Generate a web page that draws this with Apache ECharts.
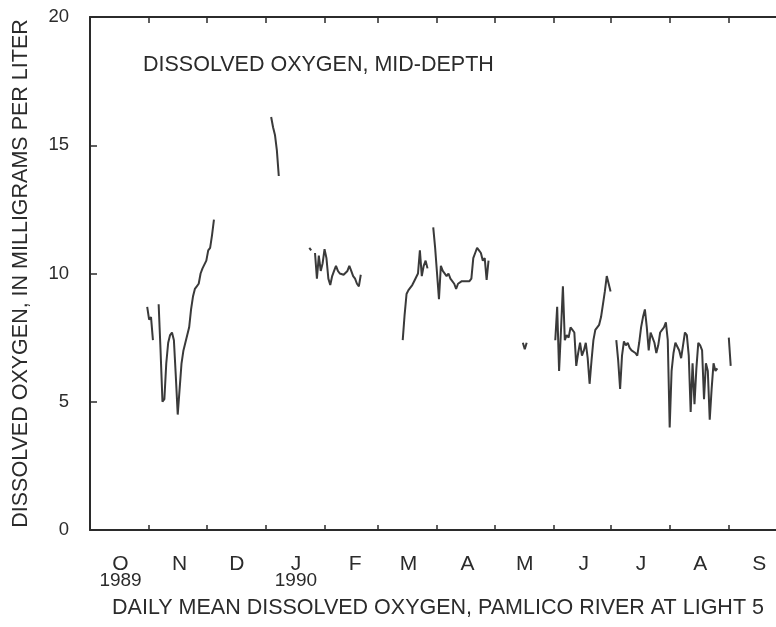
<!DOCTYPE html>
<html>
<head>
<meta charset="utf-8">
<script src="https://cdn.jsdelivr.net/npm/echarts@6/dist/echarts.min.js"></script>
<style>
  html, body { margin: 0; padding: 0; background: #fff; }
  #chart { width: 776px; height: 627px; }
</style>
</head>
<body>
<div id="chart"></div>
<script>
// daily mean dissolved oxygen, mg/L (gaps = no record)
var octNov1989a = [
  ["1989-10-31", 8.7], ["1989-11-01", 8.2], ["1989-11-02", 8.3], ["1989-11-03", 7.4]
];
var novDec1989 = [
  ["1989-11-06", 8.8], ["1989-11-07", 7.0], ["1989-11-08", 5.0], ["1989-11-09", 5.1],
  ["1989-11-10", 6.5], ["1989-11-11", 7.3], ["1989-11-12", 7.6], ["1989-11-13", 7.7],
  ["1989-11-14", 7.4], ["1989-11-15", 6.0], ["1989-11-16", 4.5], ["1989-11-17", 5.5],
  ["1989-11-18", 6.5], ["1989-11-19", 7.0], ["1989-11-20", 7.3], ["1989-11-21", 7.35],
  ["1989-11-22", 7.9], ["1989-11-23", 8.6], ["1989-11-24", 9.1], ["1989-11-25", 9.4],
  ["1989-11-26", 9.5], ["1989-11-27", 9.6], ["1989-11-28", 10.0], ["1989-11-29", 10.2],
  ["1989-11-30", 10.2], ["1989-12-01", 10.5], ["1989-12-02", 10.9], ["1989-12-03", 11.0],
  ["1989-12-04", 11.5], ["1989-12-05", 12.1]
];
var jan1990a = [
  ["1990-01-04", 16.1], ["1990-01-05", 15.7], ["1990-01-06", 15.4], ["1990-01-07", 14.8],
  ["1990-01-08", 13.8]
];
var jan1990b = [["1990-01-24", 11.0], ["1990-01-25", 10.9]];
var janFeb1990 = [
  ["1990-01-27", 10.8], ["1990-01-28", 9.8], ["1990-01-29", 10.7], ["1990-01-30", 10.1],
  ["1990-01-31", 10.4], ["1990-02-01", 10.95], ["1990-02-02", 10.6], ["1990-02-03", 9.8],
  ["1990-02-04", 9.55], ["1990-02-05", 9.9], ["1990-02-06", 10.1], ["1990-02-07", 10.3],
  ["1990-02-08", 10.1], ["1990-02-09", 10.0], ["1990-02-10", 10.05], ["1990-02-11", 9.95],
  ["1990-02-12", 10.0], ["1990-02-13", 10.1], ["1990-02-14", 10.3], ["1990-02-15", 10.1],
  ["1990-02-16", 9.9], ["1990-02-17", 9.8], ["1990-02-18", 9.6], ["1990-02-19", 9.5],
  ["1990-02-20", 9.95]
];
var mar1990 = [
  ["1990-03-14", 7.4], ["1990-03-15", 8.4], ["1990-03-16", 9.2], ["1990-03-17", 9.35],
  ["1990-03-18", 9.4], ["1990-03-19", 9.55], ["1990-03-20", 9.7], ["1990-03-21", 9.7],
  ["1990-03-22", 10.0], ["1990-03-23", 10.9], ["1990-03-24", 9.9], ["1990-03-25", 10.3],
  ["1990-03-26", 10.5], ["1990-03-27", 10.2]
];
var marApr1990 = [
  ["1990-03-30", 11.8], ["1990-03-31", 11.0], ["1990-04-01", 10.0], ["1990-04-02", 9.0],
  ["1990-04-03", 10.3], ["1990-04-04", 10.1], ["1990-04-05", 10.1], ["1990-04-06", 9.9],
  ["1990-04-07", 10.0], ["1990-04-08", 9.8], ["1990-04-09", 9.8], ["1990-04-10", 9.6],
  ["1990-04-11", 9.4], ["1990-04-12", 9.6], ["1990-04-13", 9.55], ["1990-04-14", 9.7],
  ["1990-04-15", 9.75], ["1990-04-16", 9.7], ["1990-04-17", 9.75], ["1990-04-18", 9.7],
  ["1990-04-19", 9.8], ["1990-04-20", 10.6], ["1990-04-21", 10.8], ["1990-04-22", 11.0],
  ["1990-04-23", 10.9], ["1990-04-24", 10.8], ["1990-04-25", 10.5], ["1990-04-26", 10.6],
  ["1990-04-27", 9.75], ["1990-04-28", 10.5]
];
var may1990 = [["1990-05-16", 7.3], ["1990-05-17", 7.05], ["1990-05-18", 7.3]];
var junJul1990 = [
  ["1990-06-02", 7.4], ["1990-06-03", 8.7], ["1990-06-04", 6.2], ["1990-06-05", 7.8],
  ["1990-06-06", 9.5], ["1990-06-07", 7.4], ["1990-06-08", 7.6], ["1990-06-09", 7.5],
  ["1990-06-10", 7.9], ["1990-06-11", 7.8], ["1990-06-12", 7.7], ["1990-06-13", 6.4],
  ["1990-06-14", 6.9], ["1990-06-15", 7.3], ["1990-06-16", 6.8], ["1990-06-17", 7.0],
  ["1990-06-18", 7.3], ["1990-06-19", 6.7], ["1990-06-20", 5.7], ["1990-06-21", 6.6],
  ["1990-06-22", 7.4], ["1990-06-23", 7.8], ["1990-06-24", 7.9], ["1990-06-25", 8.0],
  ["1990-06-26", 8.3], ["1990-06-27", 8.8], ["1990-06-28", 9.3], ["1990-06-29", 9.9],
  ["1990-06-30", 9.6], ["1990-07-01", 9.3]
];
var julAug1990 = [
  ["1990-07-04", 7.4], ["1990-07-05", 6.6], ["1990-07-06", 5.5], ["1990-07-07", 6.8],
  ["1990-07-08", 7.35], ["1990-07-09", 7.2], ["1990-07-10", 7.3], ["1990-07-11", 7.1],
  ["1990-07-12", 7.0], ["1990-07-13", 6.95], ["1990-07-14", 6.9], ["1990-07-15", 6.8],
  ["1990-07-16", 7.3], ["1990-07-17", 7.9], ["1990-07-18", 8.3], ["1990-07-19", 8.6],
  ["1990-07-20", 7.9], ["1990-07-21", 7.0], ["1990-07-22", 7.7], ["1990-07-23", 7.5],
  ["1990-07-24", 7.3], ["1990-07-25", 6.9], ["1990-07-26", 7.2], ["1990-07-27", 7.7],
  ["1990-07-28", 7.8], ["1990-07-29", 7.9], ["1990-07-30", 8.1], ["1990-07-31", 7.4],
  ["1990-08-01", 4.0], ["1990-08-02", 6.2], ["1990-08-03", 6.9], ["1990-08-04", 7.3],
  ["1990-08-05", 7.3], ["1990-08-06", 7.0], ["1990-08-07", 6.7], ["1990-08-08", 7.2],
  ["1990-08-09", 7.7], ["1990-08-10", 7.6], ["1990-08-11", 6.8], ["1990-08-12", 4.6],
  ["1990-08-13", 6.5], ["1990-08-14", 4.9], ["1990-08-15", 6.3], ["1990-08-16", 7.3],
  ["1990-08-17", 7.2], ["1990-08-18", 7.0], ["1990-08-19", 5.1], ["1990-08-20", 6.5],
  ["1990-08-21", 6.2], ["1990-08-22", 4.3], ["1990-08-23", 5.5], ["1990-08-24", 6.5],
  ["1990-08-25", 6.2], ["1990-08-26", 6.3]
];
var sep1990 = [["1990-09-01", 7.5], ["1990-09-02", 6.4]];

var monthLetters = ["J", "F", "M", "A", "M", "J", "J", "A", "S", "O", "N", "D"];
var yearLabels = { "1989-10": "1989", "1990-01": "1990" };

// one category per day, Oct 1 1989 .. Oct 1 1990
function pad(n) { return n < 10 ? "0" + n : "" + n; }
var days = [];
var dt = new Date(Date.UTC(1989, 9, 1));
var stop = Date.UTC(1990, 9, 1);
while (dt.getTime() <= stop) {
  days.push(dt.getUTCFullYear() + "-" + pad(dt.getUTCMonth() + 1) + "-" + pad(dt.getUTCDate()));
  dt = new Date(dt.getTime() + 86400000);
}

var lookup = {};
[octNov1989a, novDec1989, jan1990a, jan1990b, janFeb1990, mar1990, marApr1990,
 may1990, junJul1990, julAug1990, sep1990].forEach(function (seg) {
  seg.forEach(function (p) { lookup[p[0]] = p[1]; });
});
var doValues = days.map(function (d) {
  return lookup[d] !== undefined ? lookup[d] : "-";
});

var FONT = "'Liberation Sans', Arial, sans-serif";
var INK = "#2b2b2b";

var chart = echarts.init(document.getElementById("chart"));
var option = {
  animation: false,
  backgroundColor: "#fff",
  textStyle: { fontFamily: FONT, color: INK },
  title: {
    text: "DISSOLVED OXYGEN, MID-DEPTH",
    left: 138,
    top: 49,
    textStyle: { fontFamily: FONT, fontSize: 21.5, fontWeight: "normal", color: INK },
  },
  grid: { left: 90, top: 17, height: 513, width: 696, outerBoundsMode: "none", containLabel: false },
  xAxis: [
    {
      type: "category",
      data: days,
      boundaryGap: false,
      position: "bottom",
      name: "DAILY MEAN DISSOLVED OXYGEN, PAMLICO RIVER AT LIGHT 5",
      nameLocation: "middle",
      nameGap: 67,
      nameTextStyle: { fontFamily: FONT, fontSize: 21.5, color: INK },
      axisLine: { lineStyle: { color: INK, width: 2 } },
      axisTick: {
        inside: true,
        length: 5,
        lineStyle: { color: INK, width: 1.5 },
        interval: function (i, v) { return v.slice(8) === "01"; },
      },
      axisLabel: {
        margin: 26,
        color: INK,
        interval: function (i, v) { return v.slice(8) === "17"; },
        formatter: function (v) {
          var m = parseInt(v.slice(5, 7), 10);
          var y = yearLabels[v.slice(0, 7)];
          var s = "{m|" + monthLetters[m - 1] + "}";
          return y ? s + "\n{y|" + y + "}" : s;
        },
        rich: {
          m: { fontFamily: FONT, fontSize: 21, lineHeight: 17, color: INK },
          y: { fontFamily: FONT, fontSize: 19, lineHeight: 15, color: INK },
        },
      },
      splitLine: { show: false },
    },
    {
      type: "category",
      data: days,
      boundaryGap: false,
      position: "top",
      axisLine: { lineStyle: { color: INK, width: 2 } },
      axisTick: {
        inside: true,
        length: 6,
        lineStyle: { color: INK, width: 1.5 },
        interval: function (i, v) { return v.slice(8) === "01"; },
      },
      axisLabel: { show: false },
    },
  ],
  yAxis: {
    type: "value",
    min: 0,
    max: 20,
    interval: 5,
    name: "DISSOLVED OXYGEN, IN MILLIGRAMS PER LITER",
    nameLocation: "middle",
    nameRotate: 90,
    nameGap: 58,
    nameTextStyle: { fontFamily: FONT, fontSize: 21.5, color: INK },
    axisLine: { show: true, lineStyle: { color: INK, width: 2 } },
    axisTick: { show: true, inside: true, length: 7, lineStyle: { color: INK, width: 1.5 } },
    axisLabel: { margin: 21, fontFamily: FONT, fontSize: 18.5, color: INK },
    splitLine: { show: false },
  },
  series: [
    {
      type: "line",
      name: "Dissolved oxygen",
      data: doValues,
      xAxisIndex: 0,
      showSymbol: false,
      connectNulls: false,
      lineStyle: { color: "#3a3a3a", width: 2 },
      itemStyle: { color: "#3a3a3a" },
    },
  ],
};
chart.setOption(option);
</script>
</body>
</html>
